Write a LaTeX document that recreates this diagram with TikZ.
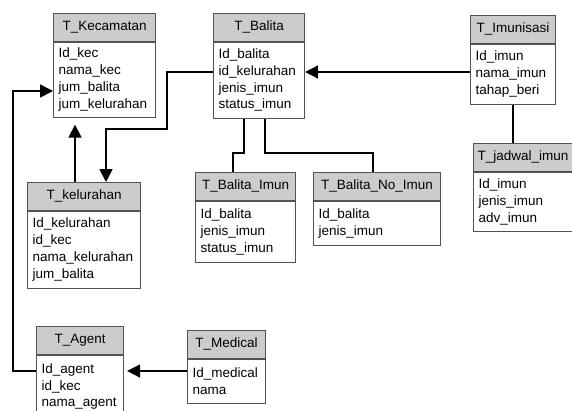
\documentclass[tikz,border=0pt]{standalone}
\usepackage{fontspec}
\setmainfont{Liberation Sans}
\usetikzlibrary{arrows.meta, positioning}

\begin{document}
\begin{tikzpicture}[x=1pt, y=-1pt,
    tblhead/.style={rectangle, draw=gray!65!black, line width=1.1pt, fill=gray!40, minimum width=#1, minimum height=27.5pt, inner xsep=2pt, inner ysep=0pt, text centered, anchor=north west, font=\fontsize{13.5}{16.8}\selectfont},
    tblbody/.style={rectangle, draw=gray!65!black, line width=1.1pt, fill=white, text width=#1, inner xsep=5pt, inner ysep=0pt, align=left, font=\fontsize{13.5}{16.8}\selectfont},
    fk/.style={-{Triangle[length=13pt, width=13pt]}, line width=1.8pt},
    link/.style={line width=1.8pt}
]
\useasboundingbox (0,0) rectangle (572,410);
\clip (0,0) rectangle (572,410);

% Tabel
\node[tblhead=102pt] (kec-h) at (53,13) {T\_Kecamatan};
\node[tblbody=92pt, minimum height=75pt, below=0pt of kec-h] (kec-b) {Id\_kec\\nama\_kec\\jum\_balita\\jum\_kelurahan};

\node[tblhead=91pt] (balita-h) at (213,13) {T\_Balita};
\node[tblbody=81pt, minimum height=76pt, below=0pt of balita-h] (balita-b) {Id\_balita\\id\_kelurahan\\jenis\_imun\\status\_imun};

\node[tblhead=85pt] (imun-h) at (470,15) {T\_Imunisasi};
\node[tblbody=75pt, minimum height=60pt, below=0pt of imun-h] (imun-b) {Id\_imun\\nama\_imun\\tahap\_beri};

\node[tblhead=99pt] (jadwal-h) at (473,143) {T\_jadwal\_imun};
\node[tblbody=89pt, minimum height=59pt, below=0pt of jadwal-h] (jadwal-b) {Id\_imun\\jenis\_imun\\adv\_imun};

\node[tblhead=113pt] (kel-h) at (27,182) {T\_kelurahan};
\node[tblbody=103pt, minimum height=77pt, below=0pt of kel-h] (kel-b) {Id\_kelurahan\\id\_kec\\nama\_kelurahan\\jum\_balita};

\node[tblhead=100pt] (bimun-h) at (195,172) {T\_Balita\_Imun};
\node[tblbody=90pt, minimum height=61pt, below=0pt of bimun-h] (bimun-b) {Id\_balita\\jenis\_imun\\status\_imun};

\node[tblhead=127pt] (bnoimun-h) at (313,172) {T\_Balita\_No\_Imun};
\node[tblbody=117pt, minimum height=44pt, below=0pt of bnoimun-h] (bnoimun-b) {Id\_balita\\jenis\_imun};

\node[tblhead=87pt] (agent-h) at (36,326) {T\_Agent};
\node[tblbody=77pt, minimum height=63pt, below=0pt of agent-h] (agent-b) {Id\_agent\\id\_kec\\nama\_agent};

\node[tblhead=78pt] (medical-h) at (187,330) {T\_Medical};
\node[tblbody=68pt, minimum height=44pt, below=0pt of medical-h] (medical-b) {Id\_medical\\nama};

% Relasi
\draw[fk] (imun-b.west |- 0,72) -- (balita-b.east |- 0,72);
\draw[fk] (balita-b.west |- 0,72) -| (167,129) -| (kel-h.north -| 106,0);
\draw[fk, shorten >=7pt] (kel-h.north -| 75,0) -- (kec-b.south -| 75,0);
\draw[fk] (agent-b.west |- 0,371) -| (13,91) -- (kec-b.west |- 0,91);
\draw[fk, shorten >=3pt] (medical-b.west |- 0,371) -- (agent-b.east |- 0,371);
\draw[link] (imun-b.south -| 513,0) -- (jadwal-h.north -| 513,0);
\draw[link] (balita-b.south -| 244,0) -- (244,153) -| (bimun-h.north -| 233,0);
\draw[link] (balita-b.south -| 265,0) -- (265,153) -| (bnoimun-h.north -| 373,0);
\end{tikzpicture}
\end{document}
